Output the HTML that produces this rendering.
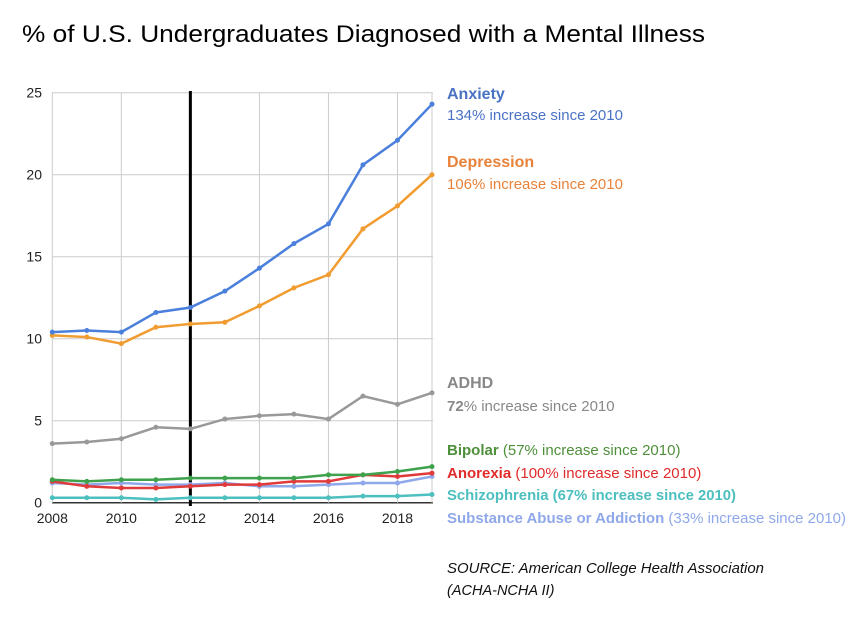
<!DOCTYPE html>
<html><head><meta charset="utf-8"><style>
body{margin:0;background:#fff;}
svg{display:block;font-family:"Liberation Sans",sans-serif;}
</style></head><body>
<svg id="chart" width="864" height="636">
<text x="22" y="42" font-size="24" textLength="683" lengthAdjust="spacingAndGlyphs" fill="#000">% of U.S. Undergraduates Diagnosed with a Mental Illness</text>
<g id="grid"></g><g id="series"></g><g id="labels"></g>
</svg>
<script>
const years=[2008,2009,2010,2011,2012,2013,2014,2015,2016,2017,2018,2019];
const anxiety=[10.4,10.5,10.4,11.6,11.9,12.9,14.3,15.8,17.0,20.6,22.1,24.3];
const depression=[10.2,10.1,9.7,10.7,10.9,11.0,12.0,13.1,13.9,16.7,18.1,20.0];
const adhd=[3.6,3.7,3.9,4.6,4.5,5.1,5.3,5.4,5.1,6.5,6.0,6.7];
const bipolar=[1.4,1.3,1.4,1.4,1.5,1.5,1.5,1.5,1.7,1.7,1.9,2.2];
const anorexia=[1.3,1.0,0.9,0.9,1.0,1.1,1.1,1.3,1.3,1.7,1.6,1.8];
const schizophrenia=[0.3,0.3,0.3,0.2,0.3,0.3,0.3,0.3,0.3,0.4,0.4,0.5];
const substance=[1.2,1.1,1.2,1.1,1.1,1.2,1.0,1.0,1.1,1.2,1.2,1.6];
const yTicks=[0,5,10,15,20,25];
const xTicks=[2008,2010,2012,2014,2016,2018];
const NS='http://www.w3.org/2000/svg';
const X=v=>52.3+(v-2008)*(432-52.3)/11;
const Y=v=>502.7-v*(410/25);
function mk(t,a,p){const e=document.createElementNS(NS,t);for(const k in a)e.setAttribute(k,a[k]);p.appendChild(e);return e;}
const g=document.getElementById('grid'),s=document.getElementById('series');
yTicks.forEach(t=>{
 const l=mk('line',{x1:52,x2:433,y1:Y(t),y2:Y(t),stroke:t===0?'#333':'#ccc','stroke-width':t===0?1.5:1},g);
 
 
 const tx=mk('text',{x:42,y:Y(t)+5,'font-size':14,'text-anchor':'end',fill:'#222'},g);tx.textContent=t;
 
 
});
xTicks.concat([2019]).forEach(t=>{
 const l=mk('line',{x1:X(t),x2:X(t),y1:Y(25),y2:Y(0),stroke:'#ccc','stroke-width':1},g);
 
 
});
xTicks.forEach(t=>{
 const tx=mk('text',{x:X(t),y:523,'font-size':14,'text-anchor':'middle',fill:'#222'},g);tx.textContent=t;
 
 
});
const marker=mk('line',{x1:X(2012),x2:X(2012),y1:91,y2:506,stroke:'#000','stroke-width':3},g);


const ser=[['schizophrenia',schizophrenia,'#4dbfbf'],['substance',substance,'#8fa8ea'],['anorexia',anorexia,'#e03a3a'],['bipolar',bipolar,'#3ea14b'],['adhd',adhd,'#999'],['depression',depression,'#f09c30'],['anxiety',anxiety,'#4a7fdc']];
ser.forEach(([n,d,c])=>{
 const p=mk('polyline',{points:d.map((v,i)=>X(years[i])+','+Y(v)).join(' '),fill:'none',stroke:c,'stroke-width':2.5},s);
 
 
 d.forEach((v,i)=>{const ci=mk('circle',{cx:X(years[i]),cy:Y(v),r:2.5,fill:c},s);
  
  });
});
</script>
<svg style="position:absolute;left:0;top:0" width="864" height="636">
<g font-size="15">
<text x="447" y="99" font-weight="bold" font-size="16" fill="#4a72c4">Anxiety</text>
<text x="447" y="120" fill="#4a72c4">134% increase since 2010</text>
<text x="447" y="167" font-weight="bold" font-size="16" fill="#e8823a">Depression</text>
<text x="447" y="189" fill="#e8823a">106% increase since 2010</text>
<text x="447" y="388" font-weight="bold" font-size="16" fill="#888">ADHD</text>
<text x="447" y="411" fill="#888"><tspan font-weight="bold">72</tspan>% increase since 2010</text>
<text x="447" y="455" fill="#4e8f3a"><tspan font-weight="bold">Bipolar</tspan> (57% increase since 2010)</text>
<text x="447" y="478" fill="#e02b2b"><tspan font-weight="bold">Anorexia</tspan> (100% increase since 2010)</text>
<text x="447" y="500" fill="#4dbfbf" font-weight="bold" textLength="289" lengthAdjust="spacingAndGlyphs">Schizophrenia (67% increase since 2010)</text>
<text x="447" y="523" fill="#8fa8ea"><tspan font-weight="bold">Substance Abuse or Addiction</tspan> (33% increase since 2010)</text>
<text x="447" y="573" font-style="italic" fill="#111" font-size="14.5" textLength="317" lengthAdjust="spacingAndGlyphs">SOURCE: American College Health Association</text>
<text x="447" y="595" font-style="italic" fill="#111" font-size="14.5">(ACHA-NCHA II)</text>
</g></svg>
</body></html>
